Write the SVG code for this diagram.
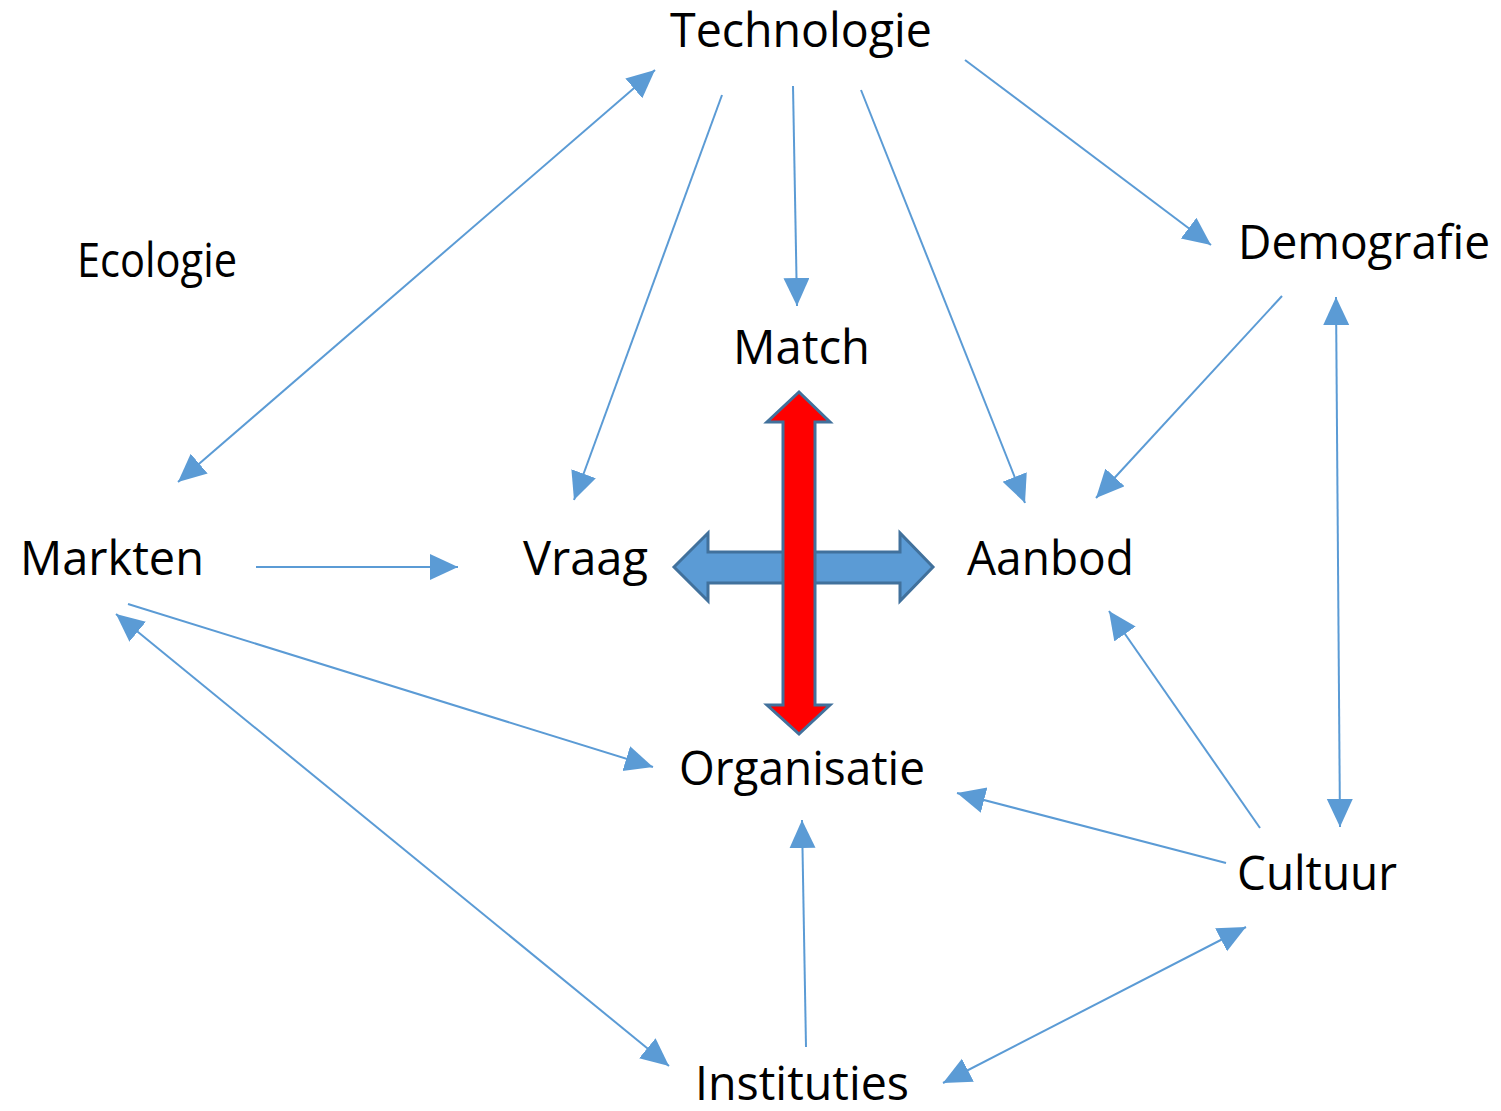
<svg xmlns="http://www.w3.org/2000/svg" width="1501" height="1111" viewBox="0 0 1501 1111">
<style>
.lbl{font-family:"Open Sans","Noto Sans","Liberation Sans",sans-serif;font-size:47px;fill:#000}
.con{stroke:#5B9BD5;stroke-width:2;fill:none;marker-end:url(#ah)}
.dbl{marker-start:url(#ah)}
.big{stroke:#41719C;stroke-width:3;stroke-linejoin:miter}
</style>
<defs>
<marker id="ah" markerUnits="userSpaceOnUse" markerWidth="30" markerHeight="28" refX="28" refY="13" orient="auto-start-reverse" viewBox="0 0 30 28">
<path d="M0,0 L28,13 L0,26 z" fill="#5B9BD5"/>
</marker>
</defs>
<rect width="1501" height="1111" fill="#fff"/>
<g id="connectors">
<line class="con dbl" x1="655" y1="70" x2="178" y2="482"/>
<line class="con" x1="722" y1="95" x2="574" y2="500"/>
<line class="con" x1="793" y1="86" x2="797" y2="306"/>
<line class="con" x1="861" y1="90" x2="1025" y2="503"/>
<line class="con" x1="965" y1="60" x2="1211" y2="245"/>
<line class="con" x1="1282" y1="296" x2="1096" y2="498"/>
<line class="con dbl" x1="1336" y1="297" x2="1340" y2="827"/>
<line class="con" x1="256" y1="567" x2="458" y2="567"/>
<line class="con" x1="128" y1="604" x2="653" y2="767"/>
<line class="con dbl" x1="116" y1="614" x2="669" y2="1066"/>
<line class="con" x1="1260" y1="828" x2="1109" y2="611"/>
<line class="con" x1="1226" y1="863" x2="957" y2="793"/>
<line class="con" x1="806" y1="1047" x2="802" y2="820"/>
<line class="con dbl" x1="1246" y1="927" x2="943" y2="1083"/>
</g>
<g id="cross">
<path class="big" fill="#5B9BD5" d="M674,567 L708,533 L708,552 L900,552 L900,533 L933,567 L900,601 L900,583 L708,583 L708,601 Z"/>
<path class="big" fill="#FF0000" d="M799,392 L830,422 L815,422 L815,705 L830,705 L799,734 L767,705 L783,705 L783,422 L767,422 Z"/>
</g>
<g id="technologie"><text class="lbl" x="670" y="47" textLength="262" lengthAdjust="spacingAndGlyphs">Technologie</text></g>
<g id="ecologie"><text class="lbl" x="77" y="277" textLength="160" lengthAdjust="spacingAndGlyphs">Ecologie</text></g>
<g id="demografie"><text class="lbl" x="1238" y="259" textLength="252" lengthAdjust="spacingAndGlyphs">Demografie</text></g>
<g id="match"><text class="lbl" x="733" y="364" textLength="137" lengthAdjust="spacingAndGlyphs">Match</text></g>
<g id="markten"><text class="lbl" x="20" y="575" textLength="184" lengthAdjust="spacingAndGlyphs">Markten</text></g>
<g id="vraag"><text class="lbl" x="523" y="575" textLength="125" lengthAdjust="spacingAndGlyphs">Vraag</text></g>
<g id="aanbod"><text class="lbl" x="967" y="575" textLength="167" lengthAdjust="spacingAndGlyphs">Aanbod</text></g>
<g id="organisatie"><text class="lbl" x="679" y="785" textLength="246" lengthAdjust="spacingAndGlyphs">Organisatie</text></g>
<g id="cultuur"><text class="lbl" x="1237" y="890" textLength="160" lengthAdjust="spacingAndGlyphs">Cultuur</text></g>
<g id="instituties"><text class="lbl" x="695" y="1100" textLength="214" lengthAdjust="spacingAndGlyphs">Instituties</text></g>
</svg>
